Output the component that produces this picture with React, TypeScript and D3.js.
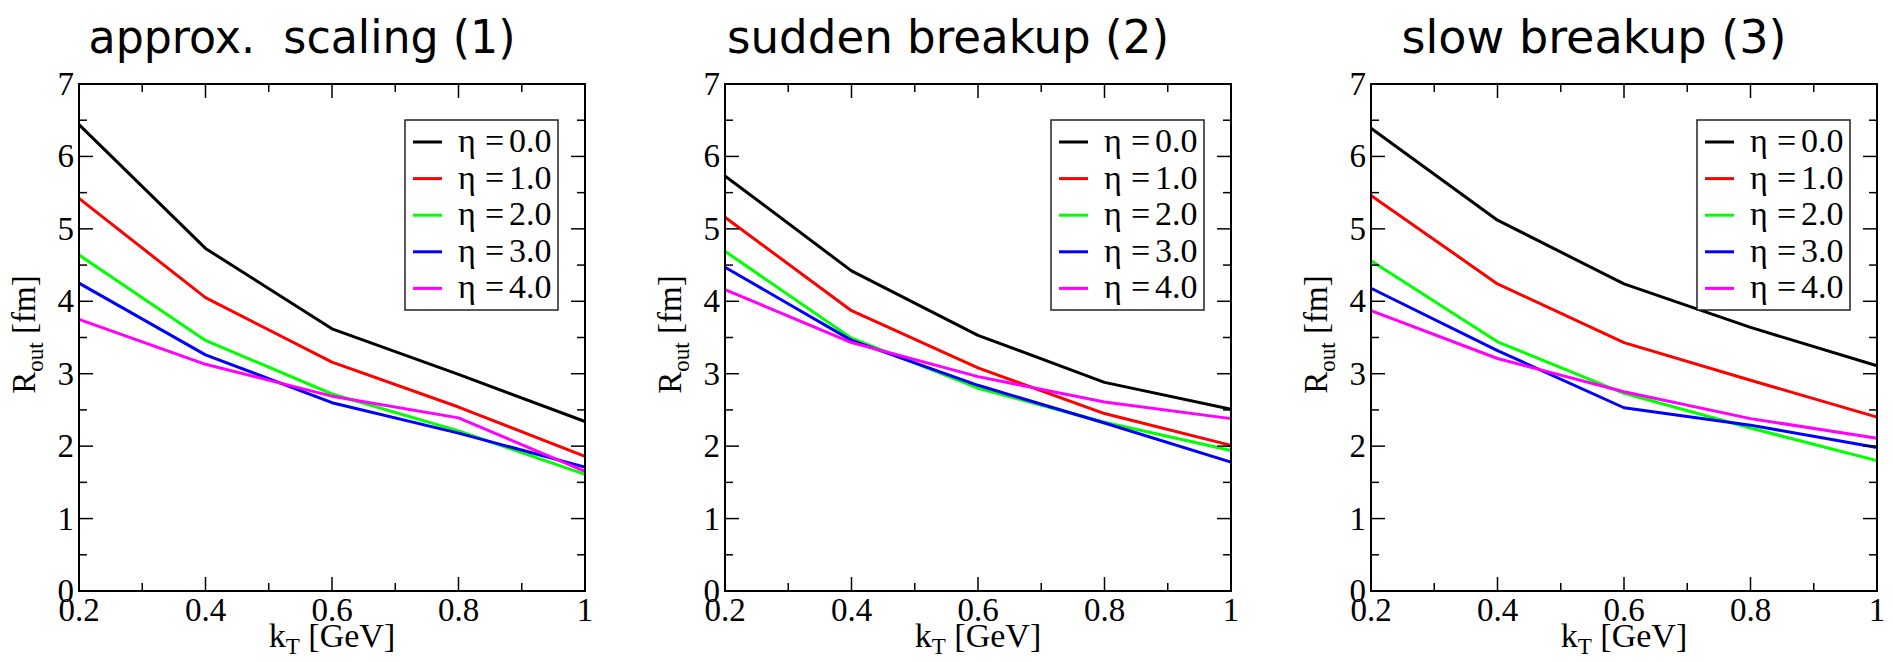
import React from 'react';
import * as d3 from 'd3';

// transverse pair momentum k_T [GeV]
const kT = [0.2, 0.4, 0.6, 0.8, 1.0];

// R_out [fm] for rapidities eta = 0..4, one array per scenario
const approxScaling = [
  [6.44, 4.73, 3.62, 2.99, 2.34],
  [5.42, 4.05, 3.16, 2.54, 1.86],
  [4.64, 3.46, 2.72, 2.21, 1.61],
  [4.25, 3.26, 2.60, 2.18, 1.71],
  [3.75, 3.13, 2.69, 2.39, 1.65],
];
const suddenBreakup = [
  [5.73, 4.42, 3.53, 2.88, 2.51],
  [5.16, 3.87, 3.08, 2.45, 2.01],
  [4.69, 3.49, 2.80, 2.33, 1.94],
  [4.47, 3.46, 2.84, 2.32, 1.78],
  [4.16, 3.43, 2.96, 2.61, 2.38],
];
const slowBreakup = [
  [6.39, 5.12, 4.24, 3.64, 3.11],
  [5.46, 4.24, 3.43, 2.91, 2.40],
  [4.56, 3.44, 2.73, 2.25, 1.80],
  [4.18, 3.32, 2.53, 2.29, 1.98],
  [3.87, 3.21, 2.75, 2.38, 2.11],
];

const panelTitles = ['approx.  scaling (1)', 'sudden breakup (2)', 'slow breakup (3)'];
const panelTitleWidths = [427, 442, 385];
const panelData = [approxScaling, suddenBreakup, slowBreakup];

const etaValues = ['0.0', '1.0', '2.0', '3.0', '4.0'];
const seriesColors = ['#000000', '#ff0000', '#00ff00', '#0000ff', '#ff00ff'];

const xMajor = [0.2, 0.4, 0.6, 0.8, 1.0];
const xMinor = [0.3, 0.5, 0.7, 0.9];
const xTickLabels = ['0.2', '0.4', '0.6', '0.8', '1'];
const yMajor = [0, 1, 2, 3, 4, 5, 6, 7];
const yMinor = [0.5, 1.5, 2.5, 3.5, 4.5, 5.5, 6.5];

const W = 1893;
const H = 662;
const panelLefts = [79, 725, 1371];
const plotTop = 84;
const plotW = 506;
const plotH = 507;
const serif = 'Liberation Serif, Times New Roman, serif';
const sans = 'DejaVu Sans, sans-serif';

function Label({ x, y, anchor = 'start', size, family, children }: any) {
  return (
    <text
      x={x}
      y={y}
      textAnchor={anchor}
      fontSize={size}
      fontFamily={family}
      fill="#000"
      style={{ whiteSpace: 'pre' }}
    >
      {children}
    </text>
  );
}

function Panel({ left, title, titleWidth, data }: { left: number; title: string; titleWidth: number; data: number[][] }) {
  const x = d3.scaleLinear().domain([0.2, 1.0]).range([left, left + plotW]);
  const y = d3.scaleLinear().domain([0, 7]).range([plotTop + plotH, plotTop]);
  const line = d3
    .line<number>()
    .x((_, i) => x(kT[i]))
    .y((d) => y(d));
  const bottom = plotTop + plotH;
  const right = left + plotW;
  const majorLen = 14;
  const minorLen = 8;

  const legLeft = left + 326;
  const legTop = plotTop + 36;
  const legW = 153;
  const legH = 190;
  const rowY = (i: number) => legTop + 22 + i * 36.6;

  return (
    <g>
      <text
        x={left + plotW / 2 - 30}
        y={53}
        textAnchor="middle"
        fontSize={47}
        fontFamily={sans}
        fill="#000"
        textLength={titleWidth}
        lengthAdjust="spacingAndGlyphs"
        style={{ whiteSpace: 'pre' }}
      >
        {title}
      </text>

      {/* data curves */}
      {data.map((s, i) => (
        <path
          key={i}
          d={line(s) || ''}
          fill="none"
          stroke={seriesColors[i]}
          strokeWidth={3}
          strokeLinejoin="round"
        />
      ))}

      {/* ticks on all four sides, pointing inward */}
      <g stroke="#000" strokeWidth={1.5}>
        {xMajor.map((t) => (
          <g key={'xM' + t}>
            <line x1={x(t)} x2={x(t)} y1={bottom} y2={bottom - majorLen} />
            <line x1={x(t)} x2={x(t)} y1={plotTop} y2={plotTop + majorLen} />
          </g>
        ))}
        {xMinor.map((t) => (
          <g key={'xm' + t}>
            <line x1={x(t)} x2={x(t)} y1={bottom} y2={bottom - minorLen} />
            <line x1={x(t)} x2={x(t)} y1={plotTop} y2={plotTop + minorLen} />
          </g>
        ))}
        {yMajor.map((t) => (
          <g key={'yM' + t}>
            <line x1={left} x2={left + majorLen} y1={y(t)} y2={y(t)} />
            <line x1={right} x2={right - majorLen} y1={y(t)} y2={y(t)} />
          </g>
        ))}
        {yMinor.map((t) => (
          <g key={'ym' + t}>
            <line x1={left} x2={left + minorLen} y1={y(t)} y2={y(t)} />
            <line x1={right} x2={right - minorLen} y1={y(t)} y2={y(t)} />
          </g>
        ))}
      </g>

      <rect x={left} y={plotTop} width={plotW} height={plotH} fill="none" stroke="#000" strokeWidth={2} />

      {/* tick labels */}
      {xMajor.map((t, i) => (
        <Label key={'xl' + t} x={x(t)} y={bottom + 30} anchor="middle" size={33} family={serif}>
          {xTickLabels[i]}
        </Label>
      ))}
      {yMajor.map((t) => (
        <Label key={'yl' + t} x={left - 5} y={y(t) + 11} anchor="end" size={33} family={serif}>
          {String(t)}
        </Label>
      ))}

      {/* axis titles */}
      <text
        x={left + plotW / 2}
        y={647}
        textAnchor="middle"
        fontSize={34}
        fontFamily={serif}
        fill="#000"
        style={{ whiteSpace: 'pre' }}
      >
        <tspan>k</tspan>
        <tspan fontSize={23} dy={7}>T</tspan>
        <tspan dy={-7}> [GeV]</tspan>
      </text>
      <g transform={`translate(${left - 44},${plotTop + plotH / 2 - 3}) rotate(-90)`}>
        <text textAnchor="middle" fontSize={33} fontFamily={serif} fill="#000" style={{ whiteSpace: 'pre' }}>
          <tspan>R</tspan>
          <tspan fontSize={23} dy={8}>out</tspan>
          <tspan dy={-8}> [fm]</tspan>
        </text>
      </g>

      {/* legend */}
      <rect x={legLeft} y={legTop} width={legW} height={legH} fill="#fff" stroke="#222" strokeWidth={1.5} />
      {etaValues.map((v, i) => (
        <g key={'lg' + i}>
          <line
            x1={legLeft + 8}
            x2={legLeft + 37}
            y1={rowY(i)}
            y2={rowY(i)}
            stroke={seriesColors[i]}
            strokeWidth={3}
          />
          <Label x={legLeft + 53} y={rowY(i) + 10} size={34} family={serif}>
            η
          </Label>
          <Label x={legLeft + 80} y={rowY(i) + 10} size={34} family={serif}>
            =
          </Label>
          <Label x={legLeft + 104} y={rowY(i) + 10} size={34} family={serif}>
            {v}
          </Label>
        </g>
      ))}
    </g>
  );
}

export default function App() {
  return (
    <svg
      width={W}
      height={H}
      viewBox={`0 0 ${W} ${H}`}
      style={{ position: 'absolute', left: 0, top: 0, background: '#fff' }}
    >
      <rect x={0} y={0} width={W} height={H} fill="#fff" />
      {panelLefts.map((l, i) => (
        <Panel key={i} left={l} title={panelTitles[i]} titleWidth={panelTitleWidths[i]} data={panelData[i]} />
      ))}
    </svg>
  );
}
